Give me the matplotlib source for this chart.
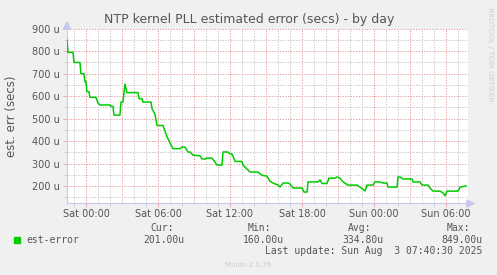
import matplotlib
matplotlib.use("Agg")
import matplotlib.pyplot as plt
import numpy as np

# hours relative to Sat 00:00, value in micro-seconds
hours = [-1.58, -1.5, -1.08, -1.0, -0.5, -0.42, -0.17, -0.08, 0.0, 0.08, 0.25, 0.33,
         0.83, 1.0, 1.17, 2.0, 2.08, 2.25, 2.33, 2.83, 2.92, 3.08, 3.25, 3.42,
         4.33, 4.42, 4.67, 4.75, 5.42, 5.5, 5.75, 5.92, 6.42, 6.75, 7.0, 7.25,
         7.83, 8.0, 8.25, 8.5, 8.67, 8.92, 9.5, 9.67, 9.92, 10.08, 10.5, 10.75,
         10.92, 11.33, 11.42, 11.83, 12.0, 12.17, 12.42, 13.0, 13.08, 13.42, 13.67,
         14.33, 14.67, 15.08, 15.33, 15.58, 16.0, 16.17, 16.42, 16.83, 17.0, 17.25,
         18.0, 18.17, 18.42, 18.5, 19.33, 19.5, 19.67, 20.08, 20.25, 20.75, 20.92,
         21.17, 21.42, 21.83, 22.58, 22.83, 23.25, 23.42, 23.92, 24.08, 24.5, 24.75,
         25.08, 25.17, 25.92, 26.0, 26.17, 26.42, 27.17, 27.25, 27.83, 28.0, 28.5,
         28.67, 28.92, 29.5, 29.75, 29.92, 30.08, 31.0, 31.17, 31.67]
est_error = [849, 795, 795, 750, 750, 700, 700, 665, 665, 620, 620, 595,
             595, 570, 561, 561, 555, 555, 516, 516, 574, 574, 654, 616,
             616, 589, 589, 574, 574, 545, 520, 470, 470, 420, 393, 367,
             367, 374, 374, 352, 352, 338, 335, 321, 321, 325, 325, 307,
             294, 294, 352, 352, 343, 343, 310, 310, 294, 276, 263,
             263, 248, 245, 222, 214, 205, 196, 214, 214, 210, 192,
             192, 174, 174, 219, 219, 228, 212, 212, 236, 236, 241,
             236, 219, 205, 205, 196, 179, 205, 205, 219, 219, 214,
             214, 196, 196, 241, 241, 232, 232, 219, 219, 205, 205,
             192, 178, 178, 170, 157, 178, 178, 196, 201]

xtick_pos = [0, 6, 12, 18, 24, 30]
xtick_labels = ["Sat 00:00", "Sat 06:00", "Sat 12:00", "Sat 18:00", "Sun 00:00", "Sun 06:00"]
ytick_pos = [200, 300, 400, 500, 600, 700, 800, 900]
ytick_labels = ["%d u" % v for v in ytick_pos]

stats_head = ["Cur:", "Min:", "Avg:", "Max:"]
stats_vals = ["201.00u", "160.00u", "334.80u", "849.00u"]

W, H = 497, 275
bg = "#f0f0f0"
txt = "#555555"
green = "#00cc00"
red_grid = "#e8a0a0"
grey_grid = "#c8c8c8"

fig = plt.figure(figsize=(W / 100, H / 100), dpi=100, facecolor=bg)
ax = fig.add_axes([67 / W, 1 - 203.3 / H, (468 - 67) / W, (203.3 - 28.7) / H])
ax.set_facecolor("white")

ax.set_xlim(-1.58, 31.83)
ax.set_ylim(124, 900)

# grid
for h in np.arange(-1, 32, 1):
    major = (h % 3 == 0)
    ax.axvline(h, color=red_grid if major else grey_grid, lw=0.7,
               ls=(0, (1.4, 1.4)), zorder=1)
for v in np.arange(150, 901, 50):
    major = (v % 100 == 0)
    ax.axhline(v, color=red_grid if major else grey_grid, lw=0.7,
               ls=(0, (1.4, 1.4)), zorder=1)

ax.plot(hours, est_error, color=green, lw=1.1, zorder=3)

for s in ["top", "right"]:
    ax.spines[s].set_visible(False)
for s in ["left", "bottom"]:
    ax.spines[s].set_color("#c8c8f0")
    ax.spines[s].set_linewidth(0.8)

ax.set_xticks(xtick_pos)
ax.set_xticklabels(xtick_labels)
ax.set_xticks(np.arange(-1, 32, 3), minor=True)
ax.set_yticks(ytick_pos)
ax.set_yticklabels(ytick_labels)
ax.set_yticks(np.arange(150, 901, 50), minor=True)
ax.tick_params(axis="both", which="major", labelsize=7, labelcolor=txt,
               color=red_grid, length=3, width=0.6, pad=2)
ax.tick_params(axis="both", which="minor", color=grey_grid, length=2, width=0.6)
ax.tick_params(axis="x", which="major", pad=1)

# arrows at axis ends
fig.patches.append(plt.Polygon([[467 / W, 1 - 200 / H], [467 / W, 1 - 207 / H], [474 / W, 1 - 203.5 / H]],
                               closed=True, transform=fig.transFigure, color="#c8c8f0"))
fig.patches.append(plt.Polygon([[63.5 / W, 1 - 29 / H], [70.5 / W, 1 - 29 / H], [67 / W, 1 - 22 / H]],
                               closed=True, transform=fig.transFigure, color="#c8c8f0"))

fig.text(249 / W, 1 - 19 / H, "NTP kernel PLL estimated error (secs) - by day",
         ha="center", va="center", fontsize=9, color=txt)
fig.text(12 / W, 1 - 116 / H, "est. err (secs)", rotation=90, ha="center", va="center",
         fontsize=8.5, color=txt)
fig.text(490 / W, 1 - 54 / H, "RRDTOOL / TOBI OETIKER", rotation=270, ha="center", va="center",
         fontsize=5.3, color="#d0d0d0")

# legend
fig.patches.append(plt.Rectangle((14 / W, 1 - 243 / H), 6 / W, 6 / H, transform=fig.transFigure,
                                 color=green))
mono = "DejaVu Sans Mono"
fig.text(26 / W, 1 - 240 / H, "est-error", ha="left", va="center", fontsize=7, color=txt, family=mono)
head_x = [150, 248, 348, 447]
val_x = [184, 284, 383, 482]
for hx, vx, hd, vl in zip(head_x, val_x, stats_head, stats_vals):
    fig.text(hx / W, 1 - 228 / H, hd, ha="left", va="center", fontsize=7, color=txt, family=mono)
    fig.text(vx / W, 1 - 240 / H, vl, ha="right", va="center", fontsize=7, color=txt, family=mono)
fig.text(482 / W, 1 - 251 / H, "Last update: Sun Aug  3 07:40:30 2025", ha="right", va="center",
         fontsize=7, color=txt, family=mono)
fig.text(248 / W, 1 - 265 / H, "Munin 2.0.76", ha="center", va="center", fontsize=5, color="#cccccc")

fig.savefig("out.png", dpi=100, facecolor=bg)
